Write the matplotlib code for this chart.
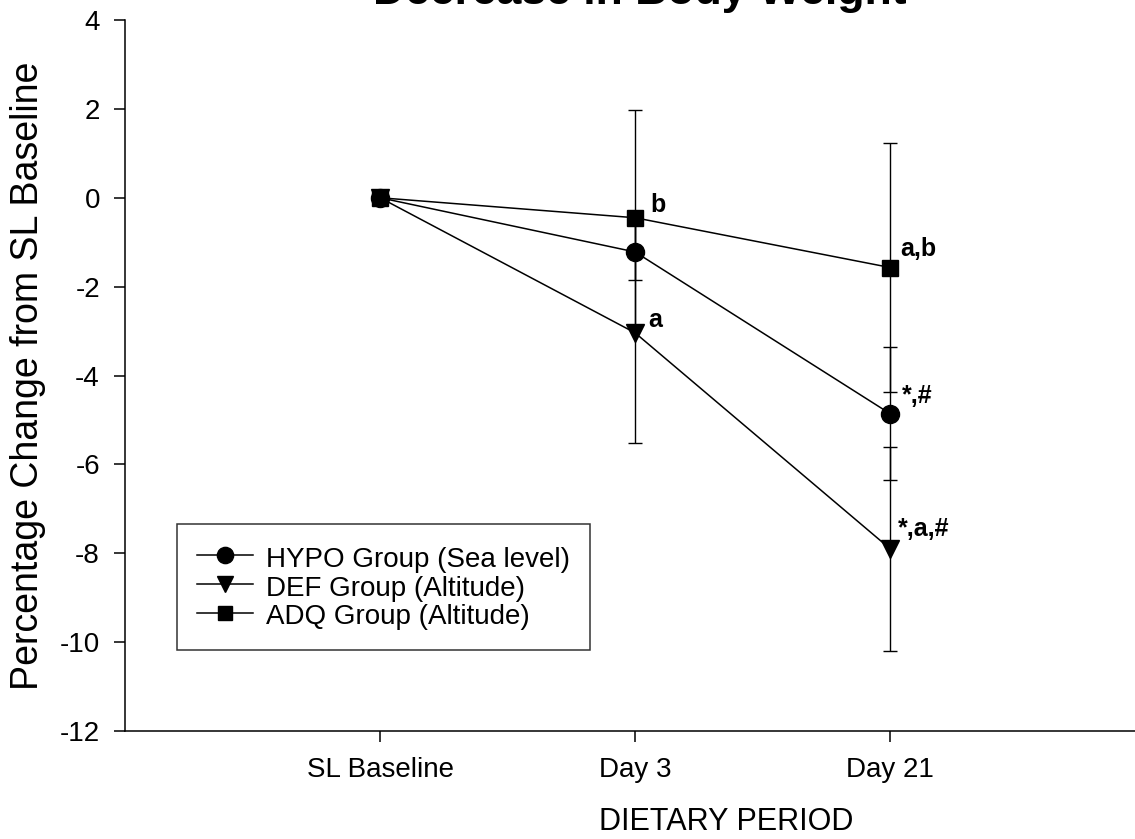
import matplotlib
matplotlib.use("Agg")
import matplotlib.pyplot as plt
from matplotlib.lines import Line2D

plt.rcParams['font.family'] = ['Liberation Sans', 'DejaVu Sans']
plt.rcParams['axes.unicode_minus'] = False

periods = ["SL Baseline", "Day 3", "Day 21"]
xpos = [1, 2, 3]

hypo_mean = [0.0, -1.22, -4.86]
hypo_sd = [0.0, 0.63, 1.5]
def_mean = [0.0, -3.04, -7.9]
def_sd = [0.0, 2.47, 2.3]
adq_mean = [0.0, -0.45, -1.57]
adq_sd = [0.0, 2.43, 2.81]

series_labels = ["HYPO Group (Sea level)", "DEF Group (Altitude)", "ADQ Group (Altitude)"]
series_markers = ['o', 'v', 's']
series_ms = [13, 13, 11]

annotations = [
    (2.06, -0.31, "b"),
    (2.05, -2.90, "a"),
    (3.04, -1.32, "a,b"),
    (3.045, -4.62, "*,#"),
    (3.03, -7.62, "*,a,#"),
]

W, H = 1135, 839
fig = plt.figure(figsize=(W / 100, H / 100), dpi=100)
ax = fig.add_axes([125 / W, 1 - 731 / H, (1135 - 125) / W, (731 - 20) / H])

lw = 1.1
common = dict(color='black', lw=lw, elinewidth=1.0, capsize=5, capthick=1.0, mfc='black', mec='black')
for mean, sd, mk, ms in zip([hypo_mean, def_mean, adq_mean], [hypo_sd, def_sd, adq_sd],
                            series_markers, series_ms):
    ax.errorbar(xpos, mean, yerr=sd, marker=mk, ms=ms, **common)

for x, y, t in annotations:
    ax.text(x, y, t, fontsize=18, fontweight='bold', ha='left', va='baseline')

ax.set_xlim(0, 3.96)
ax.set_ylim(-12, 4)
ax.set_yticks(range(-12, 5, 2))
ax.set_xticks(xpos)
ax.set_xticklabels(periods)
ax.tick_params(axis='both', direction='out', length=8, width=lw, labelsize=20, color='black')
ax.tick_params(axis='x', pad=11)
ax.tick_params(axis='y', pad=10)

for s in ['top', 'right']:
    ax.spines[s].set_visible(False)
for s in ['left', 'bottom']:
    ax.spines[s].set_linewidth(lw)
    ax.spines[s].set_color('black')

ax.set_ylabel("Percentage Change from SL Baseline", fontsize=27)
ax.yaxis.label.set_ha('center')
ax.yaxis.label.set_va('center')
ax.yaxis.set_label_coords((28 - 125) / 1010, 0.5)

ax.set_xlabel("DIETARY PERIOD", fontsize=22)
ax.xaxis.label.set_va('baseline')
ax.xaxis.set_label_coords((726 - 125) / 1010, -(830 - 731) / 711)

fig.text(640 / W, 1 - 4 / H, "Decrease in Body Weight", fontsize=32, fontweight='bold',
         ha='center', va='baseline')

handles = [Line2D([], [], color='black', lw=lw, marker=mk, ms=ms * 0.9, mfc='black', mec='black')
           for mk, ms in zip(series_markers, series_ms)]
leg = ax.legend(handles=handles, labels=series_labels, loc='upper left',
                bbox_to_anchor=((177 - 125) / 1010, (731 - 524) / 711),
                fontsize=20, frameon=True, fancybox=False, handlelength=2.0,
                handletextpad=0.5, borderpad=0.72, labelspacing=0.0, handleheight=1.1,
                borderaxespad=0)
leg.get_frame().set_edgecolor('black')
leg.get_frame().set_linewidth(lw)

fig.savefig("out.png", dpi=100)
